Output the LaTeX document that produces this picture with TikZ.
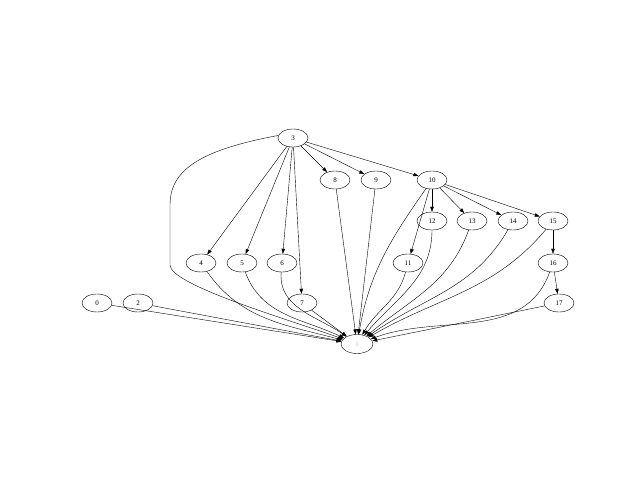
\documentclass[tikz,border=0pt]{standalone}
\usepackage{fontspec}
\setmainfont{Liberation Serif}
\usetikzlibrary{shapes.geometric,arrows.meta}
\begin{document}
\begin{tikzpicture}[x=1pt,y=1pt,
    vertex/.style={draw,ellipse,line width=0.4pt,minimum width=30pt,minimum height=18pt,inner sep=0pt,font=\fontsize{7}{8}\selectfont},
    edge/.style={line width=0.4pt,-{Triangle[length=5pt,width=3.5pt]}}]
    \useasboundingbox (0,0) rectangle (640,480);
    % nodes
    \node[vertex] (n3) at (293,342) {3};
    \node[vertex] (n8) at (335,300) {8};
    \node[vertex] (n9) at (376,300) {9};
    \node[vertex] (n10) at (432,300) {10};
    \node[vertex] (n12) at (432,259) {12};
    \node[vertex] (n13) at (472,259) {13};
    \node[vertex] (n14) at (513,259) {14};
    \node[vertex] (n15) at (553,259) {15};
    \node[vertex] (n4) at (201,217) {4};
    \node[vertex] (n5) at (242,217) {5};
    \node[vertex] (n6) at (282,217) {6};
    \node[vertex] (n11) at (408,217) {11};
    \node[vertex] (n16) at (553,217) {16};
    \node[vertex] (n0) at (97,177) {0};
    \node[vertex] (n2) at (138,177) {2};
    \node[vertex] (n7) at (302,177) {7};
    \node[vertex] (n17) at (559,177) {17};
    \node[vertex,minimum width=32pt,minimum height=19pt,text=gray!50] (n1) at (357,136) {1};
    % edges out of 3 and 10
    \foreach \t in {4,5,6,7,8,9,10} \draw[edge] (n3) -- (n\t);
    \foreach \t in {11,12,13,14,15} \draw[edge] (n10) -- (n\t);
    \draw[edge] (n15) -- (n16);
    \draw[edge] (n16) -- (n17);
    \draw[edge] (n3.170) .. controls (200,330) and (170,310) .. (170,275) -- (170,215) .. controls (170,195) and (290,160) .. (n1);
    % edges into 1
    \foreach \s in {0,2,7,8,9,17} \draw[edge] (n\s) -- (n1);
    \draw[edge] (n4) to[out=-55,in=165] (n1);
    \draw[edge] (n5) to[out=-70,in=155] (n1);
    \draw[edge] (n6) to[out=-95,in=145] (n1);
    \draw[edge] (n10.235) to[out=-125,in=80] (n1);
    \draw[edge] (n11) to[out=-105,in=60] (n1);
    \draw[edge] (n12) to[out=-90,in=50] (n1);
    \draw[edge] (n13) to[out=-110,in=40] (n1);
    \draw[edge] (n14) to[out=-120,in=35] (n1);
    \draw[edge] (n15) to[out=-130,in=30] (n1);
    \draw[edge] (n16) to[out=-110,in=20] (n1);
\end{tikzpicture}
\end{document}
